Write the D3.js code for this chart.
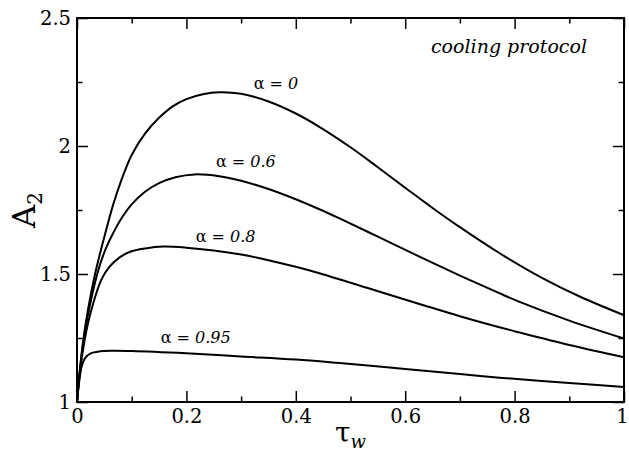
<!DOCTYPE html>
<html>
<head>
<meta charset="utf-8">
<script src="https://cdn.jsdelivr.net/npm/d3@7"></script>
<style>
  body { margin: 0; background: #fff; }
</style>
</head>
<body>
<div id="chart"></div>
<script>
// A_2 vs tau_w, cooling protocol, one curve per alpha
const tAlpha0   = [0, 0.005, 0.012, 0.02, 0.033, 0.05, 0.066, 0.08, 0.1, 0.125, 0.15, 0.175, 0.2, 0.23, 0.26, 0.3, 0.35, 0.4, 0.443, 0.5, 0.55, 0.6, 0.65, 0.7, 0.772, 0.85, 0.92, 1.0];
const aAlpha0   = [1.0, 1.12, 1.25, 1.36, 1.5, 1.645, 1.77, 1.86, 1.965, 2.05, 2.11, 2.155, 2.183, 2.202, 2.21, 2.204, 2.174, 2.127, 2.075, 1.995, 1.917, 1.837, 1.758, 1.683, 1.582, 1.485, 1.411, 1.339];

const tAlpha06  = [0, 0.005, 0.0128, 0.02, 0.037, 0.05, 0.065, 0.08, 0.1, 0.125, 0.15, 0.18, 0.215, 0.26, 0.3, 0.35, 0.4, 0.443, 0.48, 0.55, 0.626, 0.7, 0.772, 0.808, 0.9, 1.0];
const aAlpha06  = [1.0, 1.12, 1.25, 1.34, 1.5, 1.585, 1.655, 1.713, 1.772, 1.822, 1.855, 1.878, 1.889, 1.882, 1.864, 1.832, 1.792, 1.753, 1.717, 1.646, 1.568, 1.494, 1.425, 1.392, 1.318, 1.248];

const tAlpha08  = [0, 0.005, 0.0146, 0.025, 0.045, 0.06, 0.078, 0.097, 0.125, 0.158, 0.2, 0.25, 0.3, 0.35, 0.4, 0.443, 0.53, 0.626, 0.7, 0.772, 0.808, 0.9, 1.0];
const aAlpha08  = [1.0, 1.11, 1.25, 1.35, 1.48, 1.53, 1.565, 1.587, 1.6, 1.607, 1.603, 1.592, 1.576, 1.554, 1.528, 1.503, 1.446, 1.383, 1.335, 1.292, 1.272, 1.223, 1.175];

const tAlpha095 = [0, 0.004, 0.0085, 0.015, 0.025, 0.042, 0.065, 0.1, 0.2, 0.3, 0.4, 0.48, 0.6, 0.7, 0.772, 0.9, 1.0];
const aAlpha095 = [1.0, 1.08, 1.138, 1.172, 1.19, 1.198, 1.20, 1.199, 1.19, 1.178, 1.166, 1.152, 1.129, 1.109, 1.095, 1.074, 1.059];

const xTicks = [0, 0.2, 0.4, 0.6, 0.8, 1];
const xMinor = [0.1, 0.3, 0.5, 0.7, 0.9];
const yTicks = [1, 1.5, 2, 2.5];
const yMinor = [1.25, 1.75, 2.25];

// curve labels: alpha value and where the label starts (data coords)
const labelText = ["0", "0.6", "0.8", "0.95"];
const labelT    = [0.323, 0.254, 0.217, 0.153];
const labelA    = [2.221, 1.919, 1.626, 1.229];

const SERIF = "'DejaVu Serif', 'Liberation Serif', serif";
const WIDTH = 629, HEIGHT = 453;
const MARGINS = {top: 18, right: 5, bottom: 51, left: 77};
const w = WIDTH - MARGINS.left - MARGINS.right;
const h = HEIGHT - MARGINS.top - MARGINS.bottom;

const svg = d3.select('#chart').append('svg')
    .attr('width', WIDTH)
    .attr('height', HEIGHT);
const g = svg.append('g')
    .attr('transform', `translate(${MARGINS.left}, ${MARGINS.top})`);

const xScale = d3.scaleLinear().domain([0, 1]).range([0, w]);
const yScale = d3.scaleLinear().domain([1, 2.5]).range([h, 0]);
const fmt = d3.format('~g');

// axes: ticks point inwards on all four sides
function styleAxis(sel) {
    sel.select('.domain').remove();
    sel.selectAll('line').attr('stroke', '#000').attr('stroke-width', 1.5);
    sel.selectAll('text')
        .style('font-family', SERIF)
        .style('font-size', '19.5px')
        .attr('fill', '#000');
}
const xAxisG = g.append('g').attr('transform', `translate(0, ${h})`)
    .call(d3.axisBottom(xScale).tickValues(xTicks).tickFormat(fmt).tickSize(-11).tickPadding(7))
    .call(styleAxis);
// last label sits on the right edge of the window
xAxisG.selectAll('text').filter(d => d === 1).attr('dx', -2);
g.append('g').attr('transform', `translate(0, ${h})`)
    .call(d3.axisBottom(xScale).tickValues(xMinor).tickFormat('').tickSize(-5.5))
    .call(styleAxis);
g.append('g')
    .call(d3.axisTop(xScale).tickValues(xTicks).tickFormat('').tickSize(-11))
    .call(styleAxis);
g.append('g')
    .call(d3.axisTop(xScale).tickValues(xMinor).tickFormat('').tickSize(-5.5))
    .call(styleAxis);
g.append('g')
    .call(d3.axisLeft(yScale).tickValues(yTicks).tickFormat(fmt).tickSize(-11).tickPadding(6))
    .call(styleAxis);
g.append('g')
    .call(d3.axisLeft(yScale).tickValues(yMinor).tickFormat('').tickSize(-5.5))
    .call(styleAxis);
g.append('g').attr('transform', `translate(${w}, 0)`)
    .call(d3.axisRight(yScale).tickValues(yTicks).tickFormat('').tickSize(-11))
    .call(styleAxis);
g.append('g').attr('transform', `translate(${w}, 0)`)
    .call(d3.axisRight(yScale).tickValues(yMinor).tickFormat('').tickSize(-5.5))
    .call(styleAxis);

// frame
g.append('rect')
    .attr('width', w).attr('height', h)
    .attr('fill', 'none').attr('stroke', '#000').attr('stroke-width', 2);

// curves
const series = [
    [tAlpha0, aAlpha0],
    [tAlpha06, aAlpha06],
    [tAlpha08, aAlpha08],
    [tAlpha095, aAlpha095]
];
const line = d3.line()
    .x(d => xScale(d[0]))
    .y(d => yScale(d[1]))
    .curve(d3.curveCatmullRom.alpha(0.5));
g.append('g').selectAll('path')
    .data(series.map(s => s[0].map((t, i) => [t, s[1][i]])))
    .enter().append('path')
    .attr('d', line)
    .attr('fill', 'none')
    .attr('stroke', '#000')
    .attr('stroke-width', 2);

// curve labels
labelText.forEach((lab, i) => {
    const t = g.append('text')
        .attr('x', xScale(labelT[i]))
        .attr('y', yScale(labelA[i]))
        .style('font-family', SERIF)
        .style('font-size', '16px');
    t.append('tspan').text('\u03b1 = ');
    t.append('tspan').style('font-style', 'italic').text(lab);
});

// annotation
g.append('text')
    .attr('x', 587 - MARGINS.left)
    .attr('y', 53 - MARGINS.top)
    .attr('text-anchor', 'end')
    .style('font-family', SERIF)
    .style('font-size', '19px')
    .style('font-style', 'italic')
    .text('cooling protocol');

// axis titles
const xl = svg.append('text')
    .attr('x', MARGINS.left + w / 2)
    .attr('y', 442)
    .attr('text-anchor', 'middle')
    .style('font-family', SERIF)
    .style('font-size', '28px');
xl.append('tspan').text('\u03c4');
xl.append('tspan').attr('dy', 6).style('font-size', '18px').style('font-style', 'italic').text('w');

const yl = svg.append('text')
    .attr('transform', `translate(35, ${MARGINS.top + h / 2}) rotate(-90)`)
    .attr('text-anchor', 'middle')
    .style('font-family', SERIF)
    .style('font-size', '32px');
yl.append('tspan').text('A');
yl.append('tspan').attr('dy', 7).style('font-size', '20px').text('2');
</script>
</body>
</html>
